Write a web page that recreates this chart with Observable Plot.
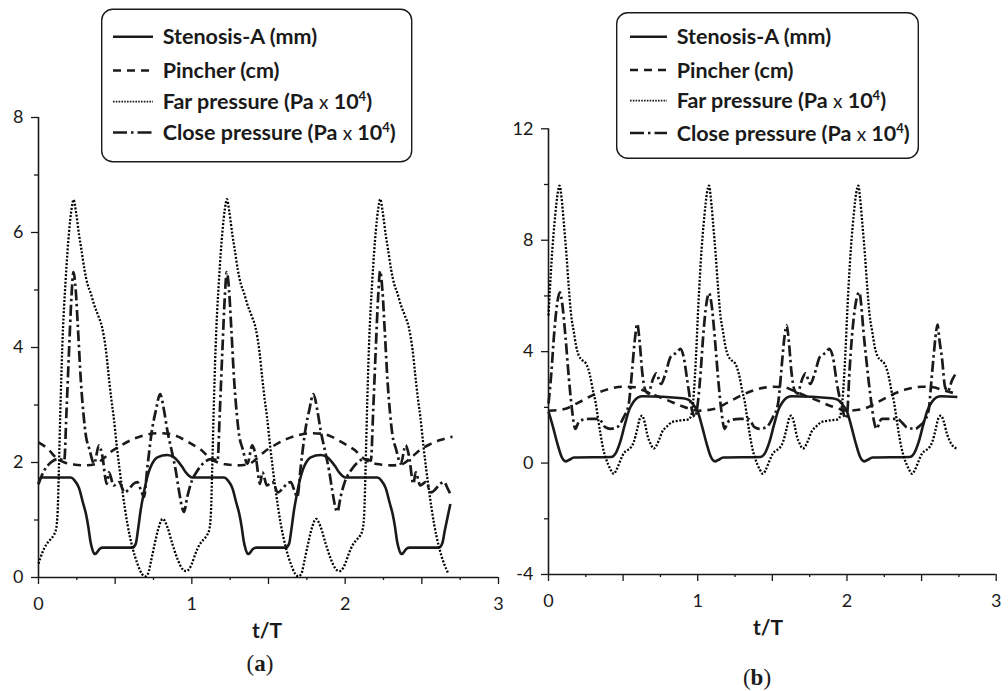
<!DOCTYPE html>
<html>
<head>
<meta charset="utf-8">
<script src="https://cdn.jsdelivr.net/npm/d3@7"></script>
<script src="https://cdn.jsdelivr.net/npm/@observablehq/plot@0.6"></script>
<style>
  html, body { margin: 0; padding: 0; background: white; }
  #wrap { position: relative; width: 1008px; height: 691px; overflow: hidden; background: white; }
  .panel { position: absolute; top: 0; }
  #overlay { position: absolute; left: 0; top: 0; pointer-events: none; }
</style>
</head>
<body>
<div id="wrap">
  <div id="pa" class="panel" style="left:0px"></div>
  <div id="pb" class="panel" style="left:510px"></div>
  <svg id="overlay" width="1008" height="691"></svg>
</div>
<script>
// ---------- Legend / labels ----------
const seriesNames = ["Stenosis-A (mm)", "Pincher (cm)", "Far pressure (Pa x 10^4)", "Close pressure (Pa x 10^4)"];
const xAxisTitle = "t/T";
const panelTags = ["a", "b"];

// ---------- Axis ticks ----------
const xTickLabels = [0, 1, 2, 3];
const xTicksMajor = [0, 0.5, 1, 1.5, 2, 2.5, 3];
const xTicksMinor = [0.25, 0.75, 1.25, 1.75, 2.25, 2.75];
const yTickLabelsA = [0, 2, 4, 6, 8];
const yTicksMinorA = [1, 3, 5, 7];
const yTickLabelsB = [-4, 0, 4, 8, 12];
const yTicksMinorB = [-2, 2, 6, 10];

// ---------- Panel (a) data: [t/T, value] ----------
const aStenosis = [
  [0,1.62],[0.015,1.74],[0.21,1.74],[0.235,1.69],[0.265,1.55],[0.29,1.3],[0.31,1.1],[0.325,0.88],[0.338,0.64],[0.35,0.5],[0.362,0.42],[0.372,0.41],[0.385,0.45],[0.4,0.5],[0.42,0.52],[0.612,0.52],[0.634,0.585],[0.65,0.85],[0.666,1.165],[0.683,1.42],[0.699,1.63],[0.715,1.8],[0.731,1.92],[0.755,2.04],[0.775,2.09],[0.84,2.13],[0.884,2.09],[0.91,2.02],[0.938,1.92],[0.96,1.83],[0.981,1.77],
  [1.0,1.74],[1.21,1.74],[1.235,1.69],[1.265,1.55],[1.29,1.3],[1.31,1.1],[1.325,0.88],[1.338,0.64],[1.35,0.5],[1.362,0.42],[1.372,0.41],[1.385,0.45],[1.4,0.5],[1.42,0.52],[1.612,0.52],[1.634,0.585],[1.65,0.85],[1.666,1.165],[1.683,1.42],[1.699,1.63],[1.715,1.8],[1.731,1.92],[1.755,2.04],[1.775,2.09],[1.84,2.13],[1.884,2.09],[1.91,2.02],[1.938,1.92],[1.96,1.83],[1.981,1.77],
  [2.0,1.74],[2.21,1.74],[2.235,1.69],[2.265,1.55],[2.29,1.3],[2.31,1.1],[2.325,0.88],[2.338,0.64],[2.35,0.5],[2.362,0.42],[2.372,0.41],[2.385,0.45],[2.4,0.5],[2.42,0.52],[2.612,0.52],[2.634,0.6],[2.65,0.82],[2.668,1.05],[2.686,1.28]
];
const aPincher = [
  [0,2.35],[0.06,2.24],[0.12,2.07],[0.17,2.0],[0.23,1.965],[0.3,1.95],[0.37,1.97],[0.42,2.06],[0.47,2.18],[0.54,2.3],[0.62,2.41],[0.7,2.48],[0.78,2.51],[0.85,2.5],[0.91,2.45],[0.96,2.38],
  [1.0,2.32],[1.06,2.22],[1.12,2.07],[1.17,2.0],[1.23,1.965],[1.3,1.95],[1.37,1.97],[1.42,2.06],[1.47,2.18],[1.54,2.3],[1.62,2.41],[1.7,2.48],[1.78,2.51],[1.85,2.5],[1.91,2.45],[1.96,2.38],
  [2.0,2.32],[2.06,2.22],[2.12,2.07],[2.17,2.0],[2.23,1.965],[2.3,1.95],[2.37,1.97],[2.42,2.06],[2.47,2.18],[2.54,2.3],[2.62,2.39],[2.7,2.45]
];
const aFar = [
  [0,0.24],[0.026,0.44],[0.05,0.57],[0.08,0.67],[0.1,0.74],[0.115,0.85],[0.125,1.15],[0.133,1.9],[0.142,2.85],[0.155,4.0],[0.177,5.17],[0.2,6.03],[0.215,6.4],[0.229,6.57],[0.245,6.35],[0.265,5.95],[0.28,5.7],[0.3,5.35],[0.32,5.1],[0.34,4.95],[0.362,4.75],[0.39,4.55],[0.415,4.35],[0.44,3.95],[0.458,3.5],[0.475,3.1],[0.49,2.8],[0.51,2.3],[0.547,1.51],[0.58,0.93],[0.612,0.53],[0.645,0.24],[0.675,0.06],[0.695,0.02],[0.715,0.07],[0.735,0.3],[0.755,0.55],[0.785,0.88],[0.81,1.02],[0.84,0.88],[0.873,0.585],[0.906,0.325],[0.938,0.15],[0.962,0.11],[0.99,0.18],
  [1.0,0.24],[1.026,0.43],[1.05,0.57],[1.08,0.67],[1.1,0.74],[1.115,0.85],[1.125,1.15],[1.133,1.9],[1.142,2.85],[1.155,4.0],[1.177,5.17],[1.2,6.03],[1.215,6.4],[1.229,6.58],[1.245,6.35],[1.265,5.95],[1.28,5.7],[1.3,5.35],[1.32,5.1],[1.34,4.95],[1.362,4.75],[1.39,4.55],[1.415,4.35],[1.44,3.95],[1.458,3.5],[1.475,3.1],[1.49,2.8],[1.51,2.3],[1.547,1.51],[1.58,0.93],[1.612,0.53],[1.645,0.24],[1.675,0.06],[1.695,0.02],[1.715,0.07],[1.735,0.3],[1.755,0.55],[1.785,0.88],[1.81,1.02],[1.84,0.88],[1.873,0.585],[1.906,0.325],[1.938,0.15],[1.962,0.11],[1.99,0.18],
  [2.0,0.24],[2.026,0.43],[2.05,0.57],[2.08,0.67],[2.1,0.74],[2.115,0.85],[2.125,1.15],[2.133,1.9],[2.142,2.85],[2.155,4.0],[2.177,5.17],[2.2,6.03],[2.215,6.4],[2.229,6.58],[2.245,6.35],[2.265,5.95],[2.28,5.7],[2.3,5.35],[2.32,5.1],[2.34,4.95],[2.362,4.75],[2.39,4.55],[2.415,4.35],[2.44,3.95],[2.458,3.5],[2.475,3.1],[2.49,2.8],[2.51,2.3],[2.547,1.51],[2.58,0.93],[2.612,0.53],[2.645,0.24],[2.675,0.06]
];
const aClose = [
  [0,1.63],[0.037,1.86],[0.08,2.0],[0.124,2.06],[0.15,2.05],[0.168,2.03],[0.182,2.85],[0.2,4.0],[0.215,4.88],[0.228,5.31],[0.243,4.99],[0.258,4.3],[0.276,3.43],[0.293,2.85],[0.31,2.45],[0.33,2.25],[0.363,1.98],[0.394,2.3],[0.416,2.12],[0.445,1.63],[0.46,1.83],[0.49,1.6],[0.525,1.66],[0.562,1.48],[0.59,1.54],[0.62,1.63],[0.645,1.66],[0.668,1.52],[0.688,1.4],[0.71,1.92],[0.743,2.61],[0.765,2.9],[0.793,3.19],[0.819,2.9],[0.84,2.56],[0.873,2.15],[0.895,1.86],[0.916,1.51],[0.938,1.2],[0.949,1.14],[0.97,1.4],
  [1.0,1.68],[1.037,1.86],[1.08,2.0],[1.124,2.06],[1.15,2.05],[1.168,2.03],[1.182,2.85],[1.2,4.0],[1.215,4.88],[1.228,5.31],[1.243,4.99],[1.258,4.3],[1.276,3.43],[1.293,2.85],[1.31,2.45],[1.33,2.25],[1.363,1.98],[1.394,2.3],[1.416,2.12],[1.445,1.63],[1.46,1.83],[1.49,1.6],[1.525,1.66],[1.562,1.48],[1.59,1.54],[1.62,1.63],[1.645,1.66],[1.668,1.52],[1.688,1.4],[1.71,1.92],[1.743,2.61],[1.765,2.9],[1.793,3.19],[1.819,2.9],[1.84,2.56],[1.873,2.15],[1.895,1.86],[1.916,1.51],[1.938,1.2],[1.949,1.14],[1.97,1.4],
  [2.0,1.68],[2.037,1.86],[2.08,2.0],[2.124,2.06],[2.15,2.05],[2.168,2.03],[2.182,2.85],[2.2,4.0],[2.215,4.88],[2.228,5.33],[2.243,4.99],[2.258,4.3],[2.276,3.43],[2.293,2.85],[2.31,2.45],[2.33,2.25],[2.363,1.98],[2.394,2.3],[2.416,2.12],[2.445,1.63],[2.46,1.83],[2.49,1.6],[2.525,1.66],[2.562,1.48],[2.59,1.54],[2.62,1.63],[2.645,1.66],[2.668,1.55],[2.686,1.45]
];

// ---------- Panel (b) data: [t/T, value] ----------
const bStenosis = [
  [0,1.85],[0.03,1.3],[0.06,0.69],[0.09,0.2],[0.115,0.06],[0.14,0.12],[0.17,0.2],[0.42,0.22],[0.45,0.35],[0.48,0.75],[0.51,1.35],[0.54,1.9],[0.57,2.2],[0.6,2.36],[0.63,2.4],[0.9,2.33],[0.94,2.27],[0.97,2.1],
  [1.0,1.85],[1.03,1.3],[1.06,0.69],[1.09,0.2],[1.115,0.06],[1.14,0.12],[1.17,0.2],[1.42,0.22],[1.45,0.35],[1.48,0.75],[1.51,1.35],[1.54,1.9],[1.57,2.2],[1.6,2.36],[1.63,2.4],[1.9,2.33],[1.94,2.27],[1.97,2.1],
  [2.0,1.85],[2.03,1.3],[2.06,0.69],[2.09,0.2],[2.115,0.06],[2.14,0.12],[2.17,0.2],[2.42,0.22],[2.45,0.35],[2.48,0.75],[2.51,1.35],[2.54,1.9],[2.57,2.2],[2.6,2.36],[2.63,2.4],[2.74,2.37]
];
const bPincher = [
  [0,1.88],[0.1,1.93],[0.2,2.17],[0.3,2.45],[0.4,2.65],[0.5,2.74],[0.58,2.72],[0.64,2.6],[0.72,2.42],[0.8,2.25],[0.9,2.03],[0.96,1.93],
  [1.0,1.88],[1.1,1.93],[1.2,2.17],[1.3,2.45],[1.4,2.65],[1.5,2.74],[1.58,2.72],[1.64,2.6],[1.72,2.42],[1.8,2.25],[1.9,2.03],[1.96,1.93],
  [2.0,1.88],[2.1,1.93],[2.2,2.17],[2.3,2.45],[2.4,2.65],[2.5,2.74],[2.58,2.72],[2.64,2.62],[2.74,2.48]
];
const bFar = [
  [0,5.3],[0.02,7.2],[0.045,8.9],[0.062,9.7],[0.074,9.96],[0.088,9.5],[0.103,8.6],[0.12,7.5],[0.136,6.3],[0.152,5.3],[0.17,4.7],[0.185,4.2],[0.203,3.86],[0.225,3.7],[0.248,3.6],[0.265,3.4],[0.28,3.1],[0.298,2.6],[0.315,2.2],[0.332,1.6],[0.348,1.05],[0.365,0.55],[0.382,0.21],[0.4,-0.05],[0.415,-0.22],[0.4375,-0.39],[0.455,-0.25],[0.471,-0.05],[0.49,0.2],[0.504,0.35],[0.525,0.45],[0.55,0.55],[0.571,0.75],[0.594,1.2],[0.612,1.6],[0.627,1.7],[0.645,1.45],[0.665,0.95],[0.683,0.7],[0.705,0.52],[0.72,0.6],[0.74,0.82],[0.76,1.1],[0.795,1.32],[0.828,1.47],[0.884,1.53],[0.94,1.57],[0.962,1.85],[0.975,2.6],[0.99,4.0],
  [1.0,5.2],[1.02,7.2],[1.045,8.9],[1.062,9.7],[1.076,9.96],[1.088,9.5],[1.103,8.6],[1.12,7.5],[1.136,6.3],[1.152,5.3],[1.17,4.7],[1.185,4.2],[1.203,3.86],[1.225,3.7],[1.248,3.6],[1.265,3.4],[1.28,3.1],[1.298,2.6],[1.315,2.2],[1.332,1.6],[1.348,1.05],[1.365,0.55],[1.382,0.21],[1.4,-0.05],[1.415,-0.22],[1.4375,-0.39],[1.455,-0.25],[1.471,-0.05],[1.49,0.2],[1.504,0.35],[1.525,0.45],[1.55,0.55],[1.571,0.75],[1.594,1.2],[1.612,1.6],[1.627,1.7],[1.645,1.45],[1.665,0.95],[1.683,0.7],[1.705,0.52],[1.72,0.6],[1.74,0.82],[1.76,1.1],[1.795,1.32],[1.828,1.47],[1.884,1.53],[1.94,1.57],[1.962,1.85],[1.975,2.6],[1.99,4.0],
  [2.0,5.2],[2.02,7.2],[2.045,8.9],[2.062,9.7],[2.076,9.96],[2.088,9.5],[2.103,8.6],[2.12,7.5],[2.136,6.3],[2.152,5.3],[2.17,4.7],[2.185,4.2],[2.203,3.86],[2.225,3.7],[2.248,3.6],[2.265,3.4],[2.28,3.1],[2.298,2.6],[2.315,2.2],[2.332,1.6],[2.348,1.05],[2.365,0.55],[2.382,0.21],[2.4,-0.05],[2.415,-0.22],[2.4375,-0.39],[2.455,-0.25],[2.471,-0.05],[2.49,0.2],[2.504,0.35],[2.525,0.45],[2.55,0.55],[2.571,0.75],[2.594,1.2],[2.612,1.6],[2.63,1.7],[2.648,1.5],[2.67,1.05],[2.69,0.78],[2.712,0.6],[2.737,0.52]
];
const bClose = [
  [0,2.13],[0.02,3.3],[0.036,4.52],[0.058,5.72],[0.076,6.13],[0.092,5.72],[0.114,4.52],[0.136,3.08],[0.158,1.89],[0.18,1.23],[0.2,1.45],[0.214,1.53],[0.28,1.59],[0.337,1.59],[0.36,1.45],[0.38,1.29],[0.415,1.23],[0.46,1.29],[0.49,1.5],[0.504,1.65],[0.538,2.13],[0.55,2.7],[0.56,3.32],[0.583,4.64],[0.594,5.0],[0.612,4.28],[0.627,3.32],[0.65,2.6],[0.672,2.49],[0.69,2.85],[0.705,3.08],[0.723,3.22],[0.74,3.0],[0.754,2.84],[0.783,3.2],[0.817,3.8],[0.84,3.9],[0.862,3.98],[0.884,4.1],[0.906,3.8],[0.929,3.0],[0.95,2.25],[0.962,1.89],[0.984,1.65],
  [1.0,2.13],[1.02,3.3],[1.036,4.52],[1.058,5.72],[1.076,6.1],[1.092,5.72],[1.114,4.52],[1.136,3.08],[1.158,1.89],[1.18,1.23],[1.2,1.45],[1.214,1.53],[1.28,1.59],[1.337,1.59],[1.36,1.45],[1.38,1.29],[1.415,1.23],[1.46,1.29],[1.49,1.5],[1.504,1.65],[1.538,2.13],[1.55,2.7],[1.56,3.32],[1.583,4.6],[1.596,4.94],[1.612,4.28],[1.627,3.32],[1.65,2.6],[1.672,2.49],[1.69,2.85],[1.705,3.08],[1.723,3.22],[1.74,3.0],[1.754,2.84],[1.783,3.2],[1.817,3.8],[1.84,3.9],[1.862,3.98],[1.88,4.1],[1.906,3.8],[1.933,2.84],[1.967,2.0],[1.99,1.6],
  [2.0,1.7],[2.017,3.3],[2.033,4.52],[2.058,5.72],[2.083,6.13],[2.097,5.6],[2.11,4.76],[2.128,3.8],[2.145,2.96],[2.165,2.1],[2.18,1.53],[2.2,1.23],[2.22,1.5],[2.235,1.59],[2.335,1.59],[2.37,1.45],[2.4,1.29],[2.458,1.23],[2.49,1.35],[2.513,1.47],[2.547,1.89],[2.565,2.9],[2.58,3.8],[2.597,4.7],[2.607,4.97],[2.62,4.4],[2.636,3.8],[2.658,2.72],[2.676,2.58],[2.703,2.96],[2.735,3.26]
];

// ---------- Drawing ----------
const ink = "#1a1a1a";
const styles = {
  solid:   {stroke: ink, strokeWidth: 2.6},
  dashed:  {stroke: ink, strokeWidth: 2.6, strokeDasharray: "8,6"},
  dotted:  {stroke: "#000", strokeWidth: 2.3, strokeDasharray: "2,1.7"},
  dashdot: {stroke: ink, strokeWidth: 2.7, strokeDasharray: "11,3.5,2.5,3.5"}
};
const styleKeys = ["solid", "dashed", "dotted", "dashdot"];

function panel(series, opts) {
  const lines = series.map((s, i) => Plot.line(s, {
    x: d => d[0], y: d => d[1], curve: "monotone-x", strokeLinejoin: "round", strokeLinecap: "butt", ...styles[styleKeys[i]]
  }));
  return Plot.plot({
    width: opts.width, height: 650,
    marginLeft: opts.ml, marginRight: opts.mr, marginTop: opts.mt, marginBottom: 650 - opts.yBottom,
    x: {domain: [0, 3]},
    y: {domain: opts.yDomain},
    style: {fontFamily: "Lato, 'Open Sans', sans-serif", fontSize: "18px", color: ink, background: "white", overflow: "visible"},
    marks: [
      Plot.axisX({ticks: xTicksMinor, tickSize: 3, tickFormat: () => "", label: null, stroke: ink, strokeWidth: 1.3}),
      Plot.axisX({ticks: xTicksMajor, tickSize: 7, tickFormat: () => "", label: null, stroke: ink, strokeWidth: 1.3}),
      Plot.axisX({ticks: xTickLabels, tickSize: 0, tickPadding: 20, tickFormat: d => String(d), label: null, fill: ink, fontSize: 18}),
      Plot.axisY({ticks: opts.yMinor, tickSize: 4, tickFormat: () => "", label: null, stroke: ink, strokeWidth: 1.3}),
      Plot.axisY({ticks: opts.yMajor, tickSize: 7, tickPadding: 8, tickFormat: d => String(d), label: null, stroke: ink, strokeWidth: 1.3, fill: ink, fontSize: 18}),
      Plot.ruleX([0], {stroke: ink, strokeWidth: 1.6}),
      Plot.ruleY([opts.yDomain[0]], {stroke: ink, strokeWidth: 1.6}),
      ...lines
    ]
  });
}

document.getElementById("pa").appendChild(panel([aStenosis, aPincher, aFar, aClose], {
  width: 510, ml: 38, mr: 12, mt: 117, yBottom: 577, yDomain: [0, 8], yMajor: yTickLabelsA, yMinor: yTicksMinorA
}));
document.getElementById("pb").appendChild(panel([bStenosis, bPincher, bFar, bClose], {
  width: 498, ml: 38, mr: 12.3, mt: 128.3, yBottom: 574, yDomain: [-4, 12], yMajor: yTickLabelsB, yMinor: yTicksMinorB
}));

// ---------- Legends and captions (overlay) ----------
const ov = d3.select("#overlay");
const legendBoxes = [
  {x: 101.7, y: 9.3, w: 310, h: 152.4, sx: 113, sw: 40, tx: 162.7, rows: [36.7, 70.5, 101.7, 132.5]},
  {x: 616.7, y: 12.7, w: 301.6, h: 145.6, sx: 630, sw: 37, tx: 676.7, rows: [36.7, 70, 100.7, 133]}
];
const legendDash = {solid: null, dashed: "8,6", dotted: "1.6,1.2", dashdot: "14,4,2.5,4"};
legendBoxes.forEach(b => {
  ov.append("rect").attr("x", b.x).attr("y", b.y).attr("width", b.w).attr("height", b.h)
    .attr("rx", 11).attr("fill", "white").attr("stroke", ink).attr("stroke-width", 1.4);
  seriesNames.forEach((name, i) => {
    const k = styleKeys[i];
    ov.append("line").attr("x1", b.sx).attr("x2", b.sx + b.sw).attr("y1", b.rows[i]).attr("y2", b.rows[i])
      .attr("stroke", ink).attr("stroke-width", k === "dotted" ? 1.8 : 2.6)
      .attr("stroke-dasharray", legendDash[k]);
    const t = ov.append("text").attr("x", b.tx).attr("y", b.rows[i] + 7.5)
      .attr("font-family", "Lato, 'Open Sans', sans-serif").attr("font-size", 21.5).attr("font-weight", 700).attr("fill", ink);
    const parts = name.split("^");
    if (parts.length === 1) {
      t.text(name);
    } else {
      const base = parts[0]; // "... (Pa x 10"
      const xi = base.lastIndexOf(" x ");
      t.append("tspan").text(base.slice(0, xi + 1));
      t.append("tspan").attr("font-weight", 400).attr("font-size", 19).text("x");
      t.append("tspan").text(base.slice(xi + 2));
      t.append("tspan").attr("font-size", 13).attr("dy", -8).text(parts[1].replace(")", ""));
      t.append("tspan").attr("dy", 8).text(")");
    }
  });
});

const captions = [
  {tag: panelTags[0], tx: 267, ty: 638, cx: 260, cy: 671},
  {tag: panelTags[1], tx: 768, ty: 635, cx: 757, cy: 685}
];
captions.forEach(c => {
  ov.append("text").attr("x", c.tx).attr("y", c.ty).attr("text-anchor", "middle")
    .attr("font-family", "Lato, 'Open Sans', sans-serif").attr("font-size", 21).attr("font-weight", 700).attr("fill", ink)
    .text(xAxisTitle);
  const t = ov.append("text").attr("x", c.cx).attr("y", c.cy).attr("text-anchor", "middle")
    .attr("font-family", "'Liberation Serif', 'DejaVu Serif', serif").attr("font-size", 23).attr("fill", ink);
  t.append("tspan").text("(");
  t.append("tspan").attr("font-weight", 700).text(c.tag);
  t.append("tspan").text(")");
});
</script>
</body>
</html>
